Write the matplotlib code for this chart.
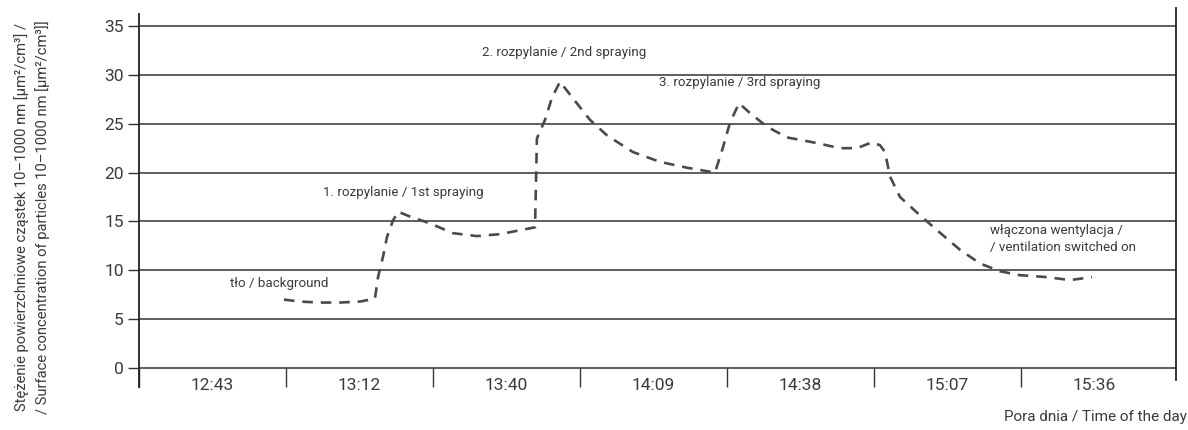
import matplotlib
matplotlib.use('Agg')
import matplotlib.pyplot as plt
import numpy as np

# =============================================================================
# DANE
# =============================================================================

# pory dnia (etykiety przedziałów na osi X)
pory = ['12:43', '13:12', '13:40', '14:09', '14:38', '15:07', '15:36']

# położenie pomiaru w jednostkach przedziału (0 = 12:43, 1 = 13:12, ...)
czas = [0.986, 1.095, 1.231, 1.367, 1.503, 1.605, 1.626, 1.660, 1.687, 1.728,
        1.762, 1.844, 1.980, 2.136, 2.299, 2.456, 2.592, 2.694, 2.707, 2.762,
        2.810, 2.864, 2.952, 3.068, 3.184, 3.361, 3.544, 3.728, 3.918, 3.973,
        4.020, 4.082, 4.156, 4.272, 4.408, 4.585, 4.769, 4.884, 4.986, 5.041,
        5.075, 5.109, 5.177, 5.293, 5.429, 5.585, 5.721, 5.857, 5.993, 6.177,
        6.333, 6.483]

# stężenie powierzchniowe [um2/cm3]
stezenie = [7.0, 6.8, 6.7, 6.7, 6.8, 7.1, 9.3, 11.4, 13.4, 15.1,
            16.0, 15.5, 14.8, 13.8, 13.5, 13.7, 14.1, 14.4, 23.5, 25.4,
            27.7, 29.3, 27.6, 25.4, 23.8, 22.1, 21.1, 20.5, 20.0, 22.6,
            25.1, 27.1, 26.1, 24.7, 23.6, 23.1, 22.5, 22.5, 23.1, 22.8,
            22.1, 19.6, 17.5, 15.9, 14.1, 12.1, 10.7, 9.9, 9.5, 9.3,
            9.0, 9.3]

# opisy zdarzeń: (tekst, x, y)
opisy = [
    ('tło / background', 0.62, 8.7),
    ('1. rozpylanie / 1st spraying', 1.25, 18.0),
    ('2. rozpylanie / 2nd spraying', 2.33, 32.3),
    ('3. rozpylanie / 3rd spraying', 3.54, 29.2),
    ('włączona wentylacja /\n/ ventilation switched on', 5.79, 13.2),
]

y_ticks = [0, 5, 10, 15, 20, 25, 30, 35]

# =============================================================================
# WYKRES
# =============================================================================

rodzina = ['Roboto', 'DejaVu Sans']
plt.rcParams['font.family'] = rodzina
kolor_txt = '#3a3a3a'

fig = plt.figure(figsize=(11.88, 4.30), dpi=100)
ax = fig.add_axes([139 / 1188, 1 - 387 / 430, (1176 - 139) / 1188, (387 - 8) / 430])

ax.set_xlim(0, (1176 - 139) / 147)
ax.set_ylim(-19 / 9.77, 360 / 9.77)

# siatka pozioma
for v in y_ticks:
    ax.axhline(v, color='#333333', lw=1.1, zorder=1)

ax.plot(czas, stezenie, color='#4a4a4a', lw=1.9, linestyle=(0, (4, 3)),
        zorder=3, solid_capstyle='butt')

# osie
for s in ['top', 'bottom']:
    ax.spines[s].set_visible(False)
ax.spines['left'].set_color('#222222')
ax.spines['right'].set_color('#222222')
ax.spines['left'].set_linewidth(1.3)
ax.spines['right'].set_linewidth(1.3)
ax.spines['left'].set_bounds(-19 / 9.77, 354 / 9.77)
ax.spines['right'].set_bounds(-12 / 9.77, 360 / 9.77)

ax.set_yticks(y_ticks)
ax.set_yticklabels([str(v) for v in y_ticks])
ax.tick_params(axis='y', direction='out', length=8, width=1.0, color='#333333',
               pad=3, labelsize=12.5, labelcolor=kolor_txt)

# znaczniki przedziałów czasu i etykiety pośrodku przedziałów
ax.set_xticks(np.arange(0, len(pory)))
ax.set_xticklabels([])
ax.set_xticks(np.arange(len(pory)) + 0.5, minor=True)
ax.set_xticklabels(pory, minor=True)
ax.tick_params(axis='x', which='major', direction='out', length=13.5,
               width=1.0, color='#333333')
ax.tick_params(axis='x', which='minor', length=0, pad=7, labelsize=12.5,
               labelcolor=kolor_txt)
ax.spines['bottom'].set_position(('data', 0))

for tekst, x, y in opisy:
    ax.text(x, y, tekst, fontsize=9.6, color=kolor_txt, ha='left', va='center',
            linespacing=1.45)

fig.text(1187 / 1188, 1 - 417 / 430, 'Pora dnia / Time of the day',
         ha='right', va='center', fontsize=11, color=kolor_txt)

fig.text(32 / 1188, 1 - 217 / 430,
         'Stężenie powierzchniowe cząstek 10–1000 nm [µm²/cm³] /\n'
         '/ Surface concentration of particles 10–1000 nm [µm²/cm³]]',
         rotation=90, ha='center', va='center', fontsize=10.6, color=kolor_txt,
         linespacing=1.55)

fig.savefig('out.png', dpi=100)
